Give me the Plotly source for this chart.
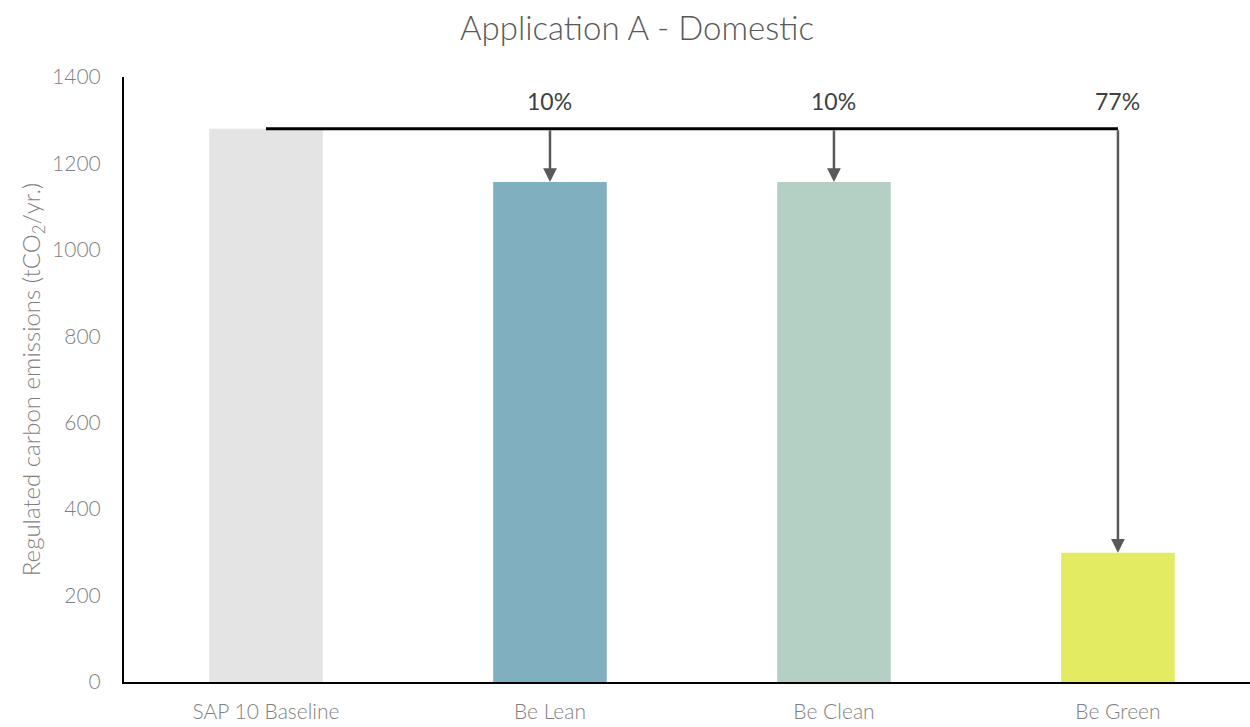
import plotly.graph_objects as go

categories = ["SAP 10 Baseline", "Be Lean", "Be Clean", "Be Green"]
values = [1280, 1157, 1157, 299]
bar_colors = ["#e4e4e4", "#80afbf", "#b4d0c5", "#e2eb62"]
reduction_labels = ["10%", "10%", "77%"]
y_ticks = [0, 200, 400, 600, 800, 1000, 1200, 1400]

FONT = "Lato"
GRAY = "#7f7f7f"

fig = go.Figure()
fig.add_trace(go.Bar(
    x=list(range(len(categories))), y=values,
    marker=dict(color=bar_colors, line=dict(width=0)),
    width=0.4, hoverinfo="skip",
))

baseline = values[0]
# horizontal connector line
fig.add_shape(type="line", x0=0, x1=len(categories) - 1, y0=baseline, y1=baseline,
              xref="x", yref="y", line=dict(color="black", width=3), layer="above")

for i, lab in enumerate(reduction_labels, start=1):
    fig.add_annotation(x=i, y=values[i], ax=i, ay=baseline, xref="x", yref="y",
                       axref="x", ayref="y", showarrow=True, arrowhead=2,
                       arrowsize=1.1, arrowwidth=2.5, arrowcolor="#595959", text="")
    fig.add_annotation(x=i, y=1345, xref="x", yref="y", text=lab, showarrow=False,
                       font=dict(family=FONT, size=23, color="#404040"))

fig.update_layout(
    width=1250, height=727,
    margin=dict(l=124, r=0, t=77, b=45),
    paper_bgcolor="white", plot_bgcolor="white",
    showlegend=False,
    title=dict(text="Application A - Domestic", x=637 / 1250, xanchor="center",
               y=1 - 28 / 727, yanchor="middle",
               font=dict(family=FONT, size=33, color="#595959", weight=300)),
    font=dict(family=FONT, color=GRAY),
)
fig.update_xaxes(
    range=[-0.5, 3.465], tickmode="array", tickvals=list(range(len(categories))),
    ticktext=categories, showline=True, linecolor="black", linewidth=2,
    showgrid=False, zeroline=False, ticks="outside", ticklen=10,
    tickcolor="rgba(0,0,0,0)",
    tickfont=dict(family=FONT, size=21, color=GRAY, weight=300),
)
fig.update_yaxes(
    range=[0, 1400], tickmode="array", tickvals=y_ticks,
    showline=True, linecolor="black", linewidth=2, showgrid=False, zeroline=False,
    ticks="outside", ticklen=17, tickcolor="rgba(0,0,0,0)",
    tickfont=dict(family=FONT, size=21, color=GRAY, weight=300),
    title=dict(text="Regulated carbon emissions (tCO<sub>2</sub>/yr.)",
               font=dict(family=FONT, size=24, color=GRAY, weight=300), standoff=5),
)

fig.write_html("out.html")
